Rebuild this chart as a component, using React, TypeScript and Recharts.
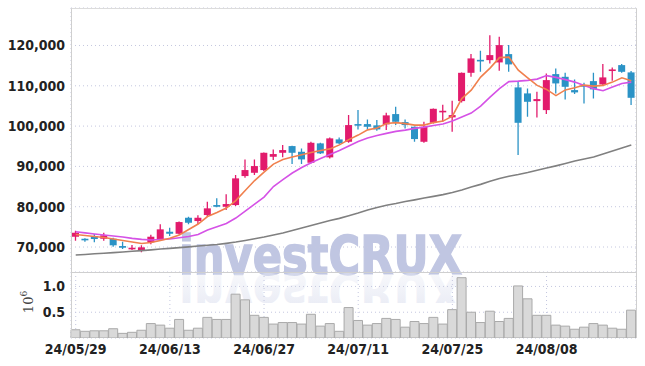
import React from "react";
import { Bar, CartesianGrid, ComposedChart, Line, XAxis, YAxis } from "recharts";

const DATES = [
  "24/05/29", "24/05/30", "24/05/31", "24/06/03", "24/06/04", "24/06/05", "24/06/07", "24/06/10", "24/06/11", "24/06/12",
  "24/06/13", "24/06/14", "24/06/17", "24/06/18", "24/06/19", "24/06/20", "24/06/21", "24/06/24", "24/06/25", "24/06/26",
  "24/06/27", "24/06/28", "24/07/01", "24/07/02", "24/07/03", "24/07/04", "24/07/05", "24/07/08", "24/07/09", "24/07/10",
  "24/07/11", "24/07/12", "24/07/15", "24/07/16", "24/07/17", "24/07/18", "24/07/19", "24/07/22", "24/07/23", "24/07/24",
  "24/07/25", "24/07/26", "24/07/29", "24/07/30", "24/07/31", "24/08/01", "24/08/02", "24/08/05", "24/08/06", "24/08/07",
  "24/08/08", "24/08/09", "24/08/12", "24/08/13", "24/08/14", "24/08/16", "24/08/19", "24/08/20", "24/08/21", "24/08/22"
];

const OPEN = [
  72550, 72050, 72720, 72050, 72050, 70240, 69570, 69080, 71160, 71730,
  73790, 73290, 77260, 76440, 77930, 80410, 79990, 80410, 87600, 88420,
  89090, 92390, 93380, 95040, 93630, 90900, 95710, 92240, 96700, 96110,
  100500, 100500, 100180, 100420, 102980, 100990, 99830, 96110, 100820, 103550,
  102160, 106200, 113220, 116440, 116370, 115800, 117860, 109600, 108110, 106200,
  103970, 112900, 112230, 108930, 110170, 111160, 110340, 113940, 115130, 113320
];
const HIGH = [
  74040, 72150, 73220, 73540, 72300, 71310, 70490, 70420, 73040, 75620,
  74780, 76320, 77510, 77860, 81230, 82070, 83060, 87850, 91740, 91740,
  93450, 94220, 95290, 95100, 94470, 96110, 95860, 97200, 97200, 102730,
  103970, 101660, 101490, 103300, 104790, 101660, 99900, 101070, 104350, 105280,
  106280, 113300, 117860, 118680, 122570, 122150, 120090, 110990, 109350, 108510,
  113070, 114310, 113220, 111580, 110740, 113220, 115380, 114560, 115380, 113640
];
const LOW = [
  71560, 71310, 71160, 71560, 70070, 69500, 69250, 68680, 70660, 71480,
  72720, 73090, 75620, 75700, 77510, 79840, 79170, 80160, 87180, 87850,
  88840, 91570, 92240, 90580, 90580, 90750, 93060, 91990, 95540, 95860,
  99180, 99180, 98840, 99010, 100250, 99430, 96110, 95860, 100670, 101070,
  98590, 105880, 112230, 113470, 115550, 113720, 113470, 92810, 102310, 102160,
  102980, 108110, 106620, 107940, 105630, 106870, 110170, 111240, 113220, 105210
];
const CLOSE = [
  73540, 71800, 71980, 72900, 70420, 69820, 69820, 69920, 72550, 74380,
  73290, 76190, 76020, 77260, 79590, 79990, 80660, 87030, 89090, 90080,
  93380, 93060, 94050, 93380, 91740, 95860, 93230, 96950, 95710, 100250,
  100350, 99830, 99180, 102660, 101070, 100250, 96780, 99830, 104290, 103800,
  102730, 113220, 116790, 116300, 117610, 120090, 115300, 100820, 106030, 106700,
  111410, 110590, 109750, 108360, 109970, 109100, 112080, 114060, 113470, 107020
];

const MA5 = [
  73090, 72850, 72600, 72350, 71980, 71610, 71230, 70860, 71110, 71610,
  72150, 72970, 74330, 75700, 77560, 78550, 79670, 81530, 84010, 86490,
  88590, 90580, 91690, 92310, 92880, 93430, 93930, 94350, 95340, 96650,
  97770, 99060, 99510, 100650, 100870, 100620, 100250, 100250, 100870, 101240,
  102480, 106820, 108930, 112150, 114390, 116990, 117110, 113890, 111980, 110100,
  109100, 107570, 108980, 109500, 110170, 109920, 110100, 110910, 111980, 111240
];
const MA20 = [
  73790, 73510, 73240, 72970, 72720, 72470, 72150, 71900, 71730, 71850,
  71980, 72280, 72600, 73090, 74210, 75030, 75820, 77190, 78920, 80660,
  82390, 85000, 86730, 88350, 89710, 90900, 91940, 92930, 93930, 95040,
  96160, 97030, 97650, 98190, 98690, 99010, 99430, 99750, 100130, 100500,
  101240, 102230, 103230, 104960, 107190, 109300, 111040, 111160, 111340, 111660,
  112530, 112080, 111530, 110910, 110050, 109300, 108760, 109670, 110590, 110910
];
const MA120 = [
  68010, 68160, 68310, 68460, 68600, 68750, 68930, 69100, 69300, 69500,
  69670, 69850, 70040, 70240, 70440, 70610, 70910, 71230, 71610, 72030,
  72470, 72970, 73470, 74090, 74710, 75330, 75950, 76570, 77110, 77760,
  78430, 79170, 79790, 80340, 80780, 81280, 81700, 82150, 82570, 82990,
  83510, 84130, 84870, 85540, 86310, 86980, 87550, 87980, 88470, 89040,
  89590, 90130, 90700, 91320, 91820, 92310, 93060, 93800, 94550, 95290
];

// volume, in millions of shares
const VOLUME = [
  0.16, 0.13, 0.14, 0.14, 0.18, 0.09, 0.11, 0.15, 0.28, 0.25,
  0.19, 0.36, 0.15, 0.19, 0.40, 0.36, 0.36, 0.85, 0.74, 0.44,
  0.40, 0.27, 0.30, 0.30, 0.27, 0.46, 0.23, 0.28, 0.13, 0.59,
  0.34, 0.25, 0.28, 0.38, 0.36, 0.21, 0.32, 0.28, 0.40, 0.27,
  0.55, 1.17, 0.50, 0.30, 0.52, 0.32, 0.38, 1.01, 0.76, 0.44,
  0.44, 0.25, 0.23, 0.17, 0.21, 0.28, 0.25, 0.19, 0.17, 0.54
];

const PRICE_TICKS = [70000, 80000, 90000, 100000, 110000, 120000];
const VOLUME_TICKS = [0.5, 1.0];
const DATE_TICKS = ["24/05/29", "24/06/13", "24/06/27", "24/07/11", "24/07/25", "24/08/08"];

const UP = "#e21b6c";
const DOWN = "#2b93c6";
const FONT = "'Liberation Sans Narrow', 'DejaVu Sans Condensed', 'Liberation Sans', sans-serif";
const GRID = "#c4c7df";

const data = DATES.map((date, i) => ({
  date,
  open: OPEN[i],
  high: HIGH[i],
  low: LOW[i],
  close: CLOSE[i],
  range: [LOW[i], HIGH[i]],
  ma5: MA5[i],
  ma20: MA20[i],
  ma120: MA120[i],
  volume: VOLUME[i]
}));

function Candle(props: any) {
  const { x, y, width, height, payload } = props;
  if (x == null || y == null) return null;
  const top = Math.min(y, y + height);
  const h = Math.abs(height);
  const k = payload.high > payload.low ? h / (payload.high - payload.low) : 0;
  const yOpen = top + (payload.high - payload.open) * k;
  const yClose = top + (payload.high - payload.close) * k;
  const color = payload.close >= payload.open ? UP : DOWN;
  const cx = x + width / 2;
  return (
    <g>
      <line x1={cx} x2={cx} y1={top} y2={top + h} stroke={color} strokeWidth={1.3} />
      <rect x={x} y={Math.min(yOpen, yClose)} width={width} height={Math.max(1.6, Math.abs(yOpen - yClose))} fill={color} />
    </g>
  );
}

function Watermark() {
  const textProps = {
    x: 179,
    y: 274,
    fontFamily: "'DejaVu Sans', 'Liberation Sans', sans-serif",
    fontWeight: 900,
    fontSize: 54,
    textLength: 283,
    lengthAdjust: "spacingAndGlyphs" as const
  };
  return (
    <svg width={645} height={366} style={{ position: "absolute", left: 0, top: 0 }}>
      <defs>
        <linearGradient id="wmFade" x1="0" y1="0" x2="0" y2="1">
          <stop offset="0%" stopColor="#dfe2f0" stopOpacity={0.95} />
          <stop offset="100%" stopColor="#eef0f7" stopOpacity={0.3} />
        </linearGradient>
      </defs>
      <text {...textProps} fill="#c0c6e2" stroke="#c0c6e2" strokeWidth={1.5}>
        investCRUX
      </text>
      <g transform="translate(0,548) scale(1,-1)">
        <text {...textProps} fill="url(#wmFade)">
          investCRUX
        </text>
      </g>
      <rect x={71} y={303} width={565} height={40} fill="#fff" />
    </svg>
  );
}

export default function App() {
  const tickStyle = { fill: "#222", fontSize: 14, fontWeight: 700, fontFamily: FONT };
  return (
    <div style={{ position: "absolute", left: 0, top: 0, width: 645, height: 366, background: "#fff", overflow: "hidden" }}>
      <Watermark />
      <div style={{ position: "absolute", left: 0, top: 0 }}>
        <ComposedChart width={645} height={272} data={data} margin={{ top: 8, right: 9, bottom: 0, left: 0 }} barCategoryGap={0}>
          <CartesianGrid stroke={GRID} strokeDasharray="1 3" />
          <XAxis dataKey="date" ticks={DATE_TICKS} interval={0} height={0} tick={false} axisLine={false} tickLine={false} />
          <YAxis
            domain={[63800, 129300]}
            ticks={PRICE_TICKS}
            width={71}
            tick={tickStyle}
            tickFormatter={(v) => Number(v).toLocaleString("en-US")}
            tickLine={false}
            axisLine={false}
            tickSize={4}
            tickMargin={2}
            allowDataOverflow
          />
          <Line dataKey="ma120" stroke="#808080" strokeWidth={1.6} dot={false} isAnimationActive={false} />
          <Line dataKey="ma20" stroke="#d552e6" strokeWidth={1.6} dot={false} isAnimationActive={false} />
          <Line dataKey="ma5" stroke="#f0804e" strokeWidth={1.6} dot={false} isAnimationActive={false} />
          <Bar dataKey="range" barSize={7} shape={<Candle />} isAnimationActive={false} />
        </ComposedChart>
      </div>
      <div style={{ position: "absolute", left: 0, top: 272 }}>
        <ComposedChart width={645} height={94} data={data} margin={{ top: 0, right: 9, bottom: 0, left: 0 }} barCategoryGap={0}>
          <CartesianGrid stroke={GRID} strokeDasharray="1 3" />
          <XAxis dataKey="date" ticks={DATE_TICKS} interval={0} height={28} tick={tickStyle} axisLine={false} tickLine={false} tickSize={0} tickMargin={6} />
          <YAxis
            domain={[0, 1.28]}
            ticks={VOLUME_TICKS}
            width={71}
            tick={tickStyle}
            tickFormatter={(v) => Number(v).toFixed(1)}
            tickLine={false}
            axisLine={false}
            tickSize={4}
            tickMargin={2}
            allowDataOverflow
            label={({ viewBox }: any) => {
              const cx = 33;
              const cy = viewBox.y + 30;
              return (
                <text transform={`translate(${cx},${cy}) rotate(-90)`} textAnchor="middle" fill="#444" fontSize={13} fontFamily="'DejaVu Serif', serif">
                  10<tspan dy={-6} fontSize={9}>6</tspan>
                </text>
              );
            }}
          />
          <Bar dataKey="volume" fill="#d9d9d9" stroke="#aaaaaa" strokeWidth={1} isAnimationActive={false} />
        </ComposedChart>
      </div>
      <div style={{ position: "absolute", left: 71, top: 8, width: 564, height: 329, borderLeft: "1px solid #cfcfcf", borderRight: "1px solid #cfcfcf", borderTop: "1px solid #dcdcdc", pointerEvents: "none" }} />
      <div style={{ position: "absolute", left: 71, top: 272, width: 565, height: 0, borderTop: "1px solid #cfcfcf", pointerEvents: "none" }} />
    </div>
  );
}
